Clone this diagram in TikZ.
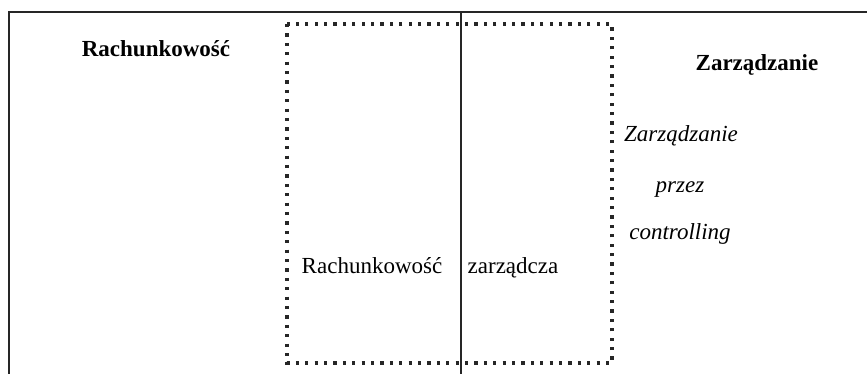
\documentclass[tikz,border=0pt]{standalone}
\usepackage{fontspec}
\setmainfont{Liberation Serif}
\begin{document}
\begin{tikzpicture}[x=1pt,y=-1pt,
  frame/.style={line width=1.6pt,draw=black!85},
  dotbox/.style={line width=3.2pt,draw=black!85,dash pattern=on 3.2pt off 6.2pt},
  lbl/.style={inner sep=0pt,anchor=base,font=\fontsize{23}{27}\selectfont}]
\useasboundingbox (0,0) rectangle (867,374);
\draw[frame] (9,374) -- (9,12) -- (867,12);
\draw[frame] (461,12) -- (461,374);
\draw[dotbox] (287,24) rectangle (612,363);
\node[lbl,font=\fontsize{23}{27}\selectfont\bfseries] (acc) at (156,57) {Rachunkowość};
\node[lbl,font=\fontsize{23}{27}\selectfont\bfseries] (mgmt) at (757,71) {Zarządzanie};
\node[lbl,font=\fontsize{23}{27}\selectfont\itshape] (z1) at (681,142) {Zarządzanie};
\node[lbl,font=\fontsize{23}{27}\selectfont\itshape] (z2) at (680,193) {przez};
\node[lbl,font=\fontsize{23}{27}\selectfont\itshape] (z3) at (680,240) {controlling};
\node[lbl] (r1) at (372,273) {Rachunkowość};
\node[lbl] (r2) at (513,273) {zarządcza};
\end{tikzpicture}
\end{document}
